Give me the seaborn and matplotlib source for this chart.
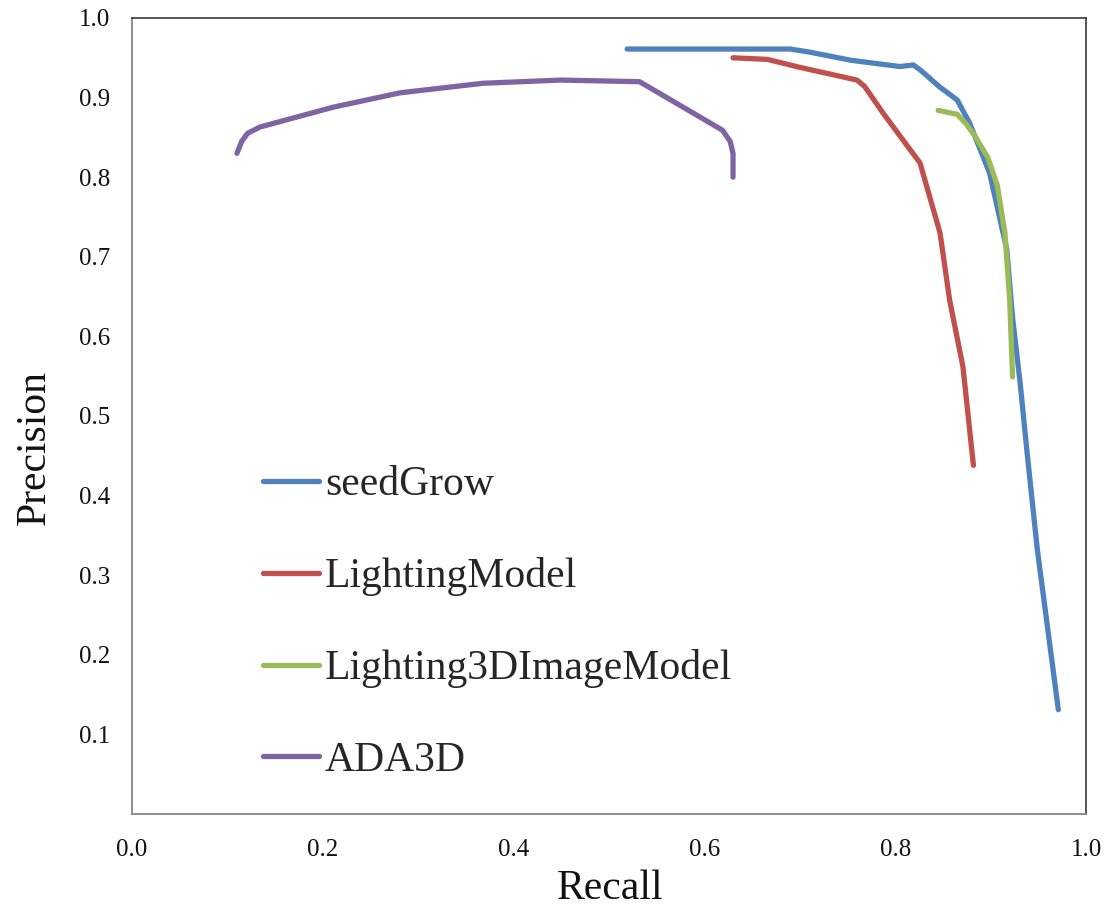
import matplotlib
matplotlib.use("Agg")
import matplotlib.pyplot as plt
import seaborn as sns
import pandas as pd

# ---- data ----
series_names = ["seedGrow", "LightingModel", "Lighting3DImageModel", "ADA3D"]

seed_recall = [0.519, 0.690, 0.711, 0.753, 0.805, 0.812, 0.819, 0.826, 0.847,
               0.865, 0.878, 0.899, 0.917, 0.923, 0.931, 0.938, 0.949, 0.971]
seed_prec = [0.961, 0.961, 0.957, 0.947, 0.939, 0.940, 0.941, 0.935, 0.913,
             0.897, 0.868, 0.805, 0.709, 0.624, 0.541, 0.457, 0.332, 0.131]

light_recall = [0.630, 0.666, 0.700, 0.760, 0.768, 0.787, 0.816, 0.826, 0.847,
                0.857, 0.871, 0.882]
light_prec = [0.950, 0.948, 0.938, 0.922, 0.914, 0.881, 0.834, 0.818, 0.730,
              0.646, 0.562, 0.438]

l3d_recall = [0.845, 0.865, 0.875, 0.884, 0.897, 0.907, 0.915, 0.920, 0.923]
l3d_prec = [0.884, 0.879, 0.866, 0.851, 0.825, 0.790, 0.730, 0.646, 0.549]

ada_recall = [0.110, 0.115, 0.121, 0.134, 0.211, 0.281, 0.368, 0.449, 0.532,
              0.619, 0.627, 0.630, 0.630]
ada_prec = [0.830, 0.845, 0.855, 0.863, 0.888, 0.906, 0.918, 0.922, 0.920,
            0.859, 0.845, 0.830, 0.800]

x_ticks = [0.0, 0.2, 0.4, 0.6, 0.8, 1.0]
y_ticks = [0.1, 0.2, 0.3, 0.4, 0.5, 0.6, 0.7, 0.8, 0.9, 1.0]

colors = ["#4F81BD", "#C0504D", "#9BBB59", "#8064A2"]

frames = []
for name, xs, ys in zip(series_names,
                        [seed_recall, light_recall, l3d_recall, ada_recall],
                        [seed_prec, light_prec, l3d_prec, ada_prec]):
    frames.append(pd.DataFrame({"Recall": xs, "Precision": ys, "series": name}))
df = pd.concat(frames, ignore_index=True)

sns.set_theme(style="white")
plt.rcParams["font.family"] = ["Liberation Serif", "DejaVu Serif"]

fig = plt.figure(figsize=(11.07, 9.06), dpi=100)
ax = fig.add_axes([132 / 1107, 1 - 814 / 906, (1086 - 132) / 1107, (814 - 18) / 906])

sns.lineplot(data=df, x="Recall", y="Precision", hue="series",
             hue_order=series_names, palette=colors, sort=False,
             estimator=None, units="series", linewidth=3.8, ax=ax,
             solid_capstyle="round", solid_joinstyle="round")

ax.set_xlim(0, 1)
ax.set_ylim(0, 1)
ax.set_xticks(x_ticks)
ax.set_xticklabels([f"{v:.1f}" for v in x_ticks])
ax.set_yticks(y_ticks)
ax.set_yticklabels([f"{v:.1f}" for v in y_ticks])

ax.tick_params(axis="both", direction="in", length=7, width=1,
               color="#868686", labelsize=18, labelcolor="#111111")
ax.tick_params(axis="x", pad=18)
ax.tick_params(axis="y", pad=16)

for side in ["left", "bottom"]:
    ax.spines[side].set_color("#868686")
    ax.spines[side].set_linewidth(1.3)
for side in ["top", "right"]:
    ax.spines[side].set_color("#3a3a3a")
    ax.spines[side].set_linewidth(1.2)

ax.set_xlabel("Recall", fontsize=30, color="#111111")
ax.set_ylabel("Precision", fontsize=30, color="#111111")
ax.xaxis.set_label_coords(0.501, -0.070)
ax.yaxis.set_label_coords(-0.082, 0.46)

leg = ax.legend(loc="upper left", bbox_to_anchor=(263 / 1107, 1 - 466 / 906),
                bbox_transform=fig.transFigure, frameon=False, fontsize=30,
                handlelength=1.34, handletextpad=0.15, labelspacing=1.27,
                borderpad=0, borderaxespad=0)
for line in leg.get_lines():
    line.set_linewidth(3.8)
    line.set_solid_capstyle("round")

fig.savefig("out.png", dpi=100)
